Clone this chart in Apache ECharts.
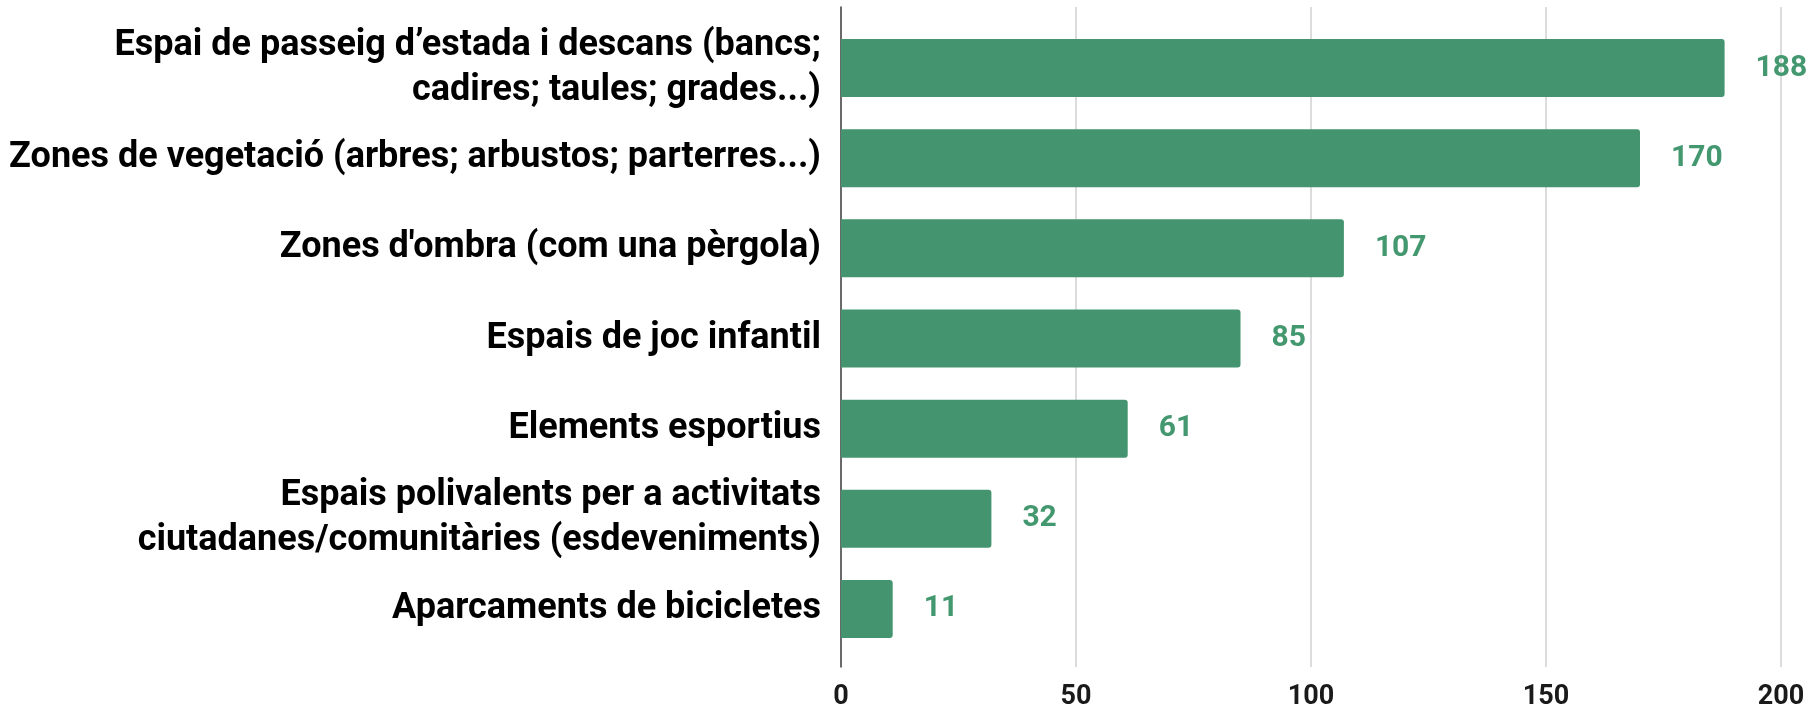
<!DOCTYPE html>
<html>
<head>
<meta charset="utf-8">
<title>Elements preferits</title>
<script src="https://cdn.jsdelivr.net/npm/echarts@6/dist/echarts.min.js"></script>
<style>
  html, body { margin: 0; padding: 0; background: #fff; }
  #chart { width: 1808px; height: 711px; }
</style>
</head>
<body>
<div id="chart"></div>
<script>
// categories (top to bottom)
const categories = [
  "Espai de passeig d\u2019estada i descans (bancs;\ncadires; taules; grades...)",
  "Zones de vegetació (arbres; arbustos; parterres...)",
  "Zones d'ombra (com una pèrgola)",
  "Espais de joc infantil",
  "Elements esportius",
  "Espais polivalents per a activitats\nciutadanes/comunitàries (esdeveniments)",
  "Aparcaments de bicicletes"
];
// number of answers
const values = [188, 170, 107, 85, 61, 32, 11];
// x axis ticks
const xTicks = [0, 50, 100, 150, 200];

const barColor = "#44956f";
const labelColor = "#44986f";

let myChart = echarts.init(document.getElementById("chart"));

myChart.setOption({
  animation: false,
  textStyle: { fontFamily: "Roboto" },
  grid: [
    // bars
    { left: 841, right: 27, top: 23, bottom: 57 },
    // grid lines + ticks (a bit taller than the bars area)
    { left: 841, right: 27, top: 7, bottom: 43 }
  ],
  xAxis: [
    {
      gridIndex: 0,
      type: "value",
      min: xTicks[0],
      max: xTicks[xTicks.length - 1],
      show: false
    },
    {
      gridIndex: 1,
      type: "value",
      min: xTicks[0],
      max: xTicks[xTicks.length - 1],
      interval: 50,
      axisLine: { show: false },
      axisTick: { show: false },
      splitLine: {
        show: true,
        lineStyle: { color: "#d0d0d0", width: 1.5 }
      },
      axisLabel: {
        margin: 17,
        color: "#1a1a1a",
        fontSize: 27,
        fontWeight: "bold",
        fontFamily: "Roboto"
      }
    }
  ],
  yAxis: [
    {
      gridIndex: 0,
      type: "category",
      inverse: true,
      data: categories,
      axisLine: { show: false },
      axisTick: { show: false },
      axisLabel: {
        margin: 20,
        color: "#000",
        fontSize: 36,
        lineHeight: 45,
        fontWeight: "bold",
        fontFamily: "Roboto",
        align: "right"
      }
    },
    {
      gridIndex: 1,
      type: "value",
      min: 0,
      max: 1,
      axisLine: { show: true, lineStyle: { color: "#444", width: 1.5 } },
      axisTick: { show: false },
      axisLabel: { show: false },
      splitLine: { show: false }
    }
  ],
  series: [
    {
      name: "Respostes",
      type: "bar",
      xAxisIndex: 0,
      yAxisIndex: 0,
      data: values,
      barWidth: 58,
      itemStyle: {
        color: barColor,
        borderRadius: [0, 3, 3, 0]
      },
      label: {
        show: true,
        position: "right",
        distance: 31,
        color: labelColor,
        fontSize: 30,
        fontWeight: "bold",
        fontFamily: "Roboto"
      }
    }
  ]
});
</script>
</body>
</html>
